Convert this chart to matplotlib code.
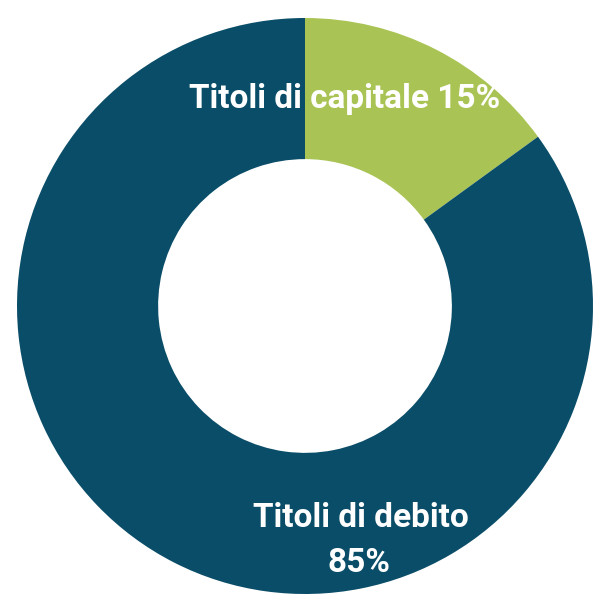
import matplotlib.pyplot as plt

# quote del portafoglio
etichette = ['Titoli di capitale', 'Titoli di debito']
valori = [15, 85]
colori = ['#a9c454', '#0a4d68']

fig = plt.figure(figsize=(5.97, 5.99), dpi=100)
ax = fig.add_axes([0, 0, 1, 1])

# anello: centro (305, 306) px, raggio 288 px
r = 288
cx, cy = 305, 306
ax.pie(valori, colors=colori, startangle=90, counterclock=False,
       radius=1, wedgeprops=dict(width=0.49, linewidth=0))
ax.set_xlim(-cx / r, (597 - cx) / r)
ax.set_ylim((cy - 599) / r, cy / r)
ax.set_aspect('equal')
ax.axis('off')


def px(x, y):
    return (x - cx) / r, (cy - y) / r


stile = dict(color='white', fontweight='bold', family=['Roboto', 'DejaVu Sans'],
             ha='center', va='baseline', fontsize=24)
ax.text(*px(345, 108), f'{etichette[0]} {valori[0]}%', **stile)
ax.text(*px(361, 527), etichette[1], **stile)
ax.text(*px(359, 572), f'{valori[1]}%', **stile)

fig.savefig('out.png', dpi=100)
